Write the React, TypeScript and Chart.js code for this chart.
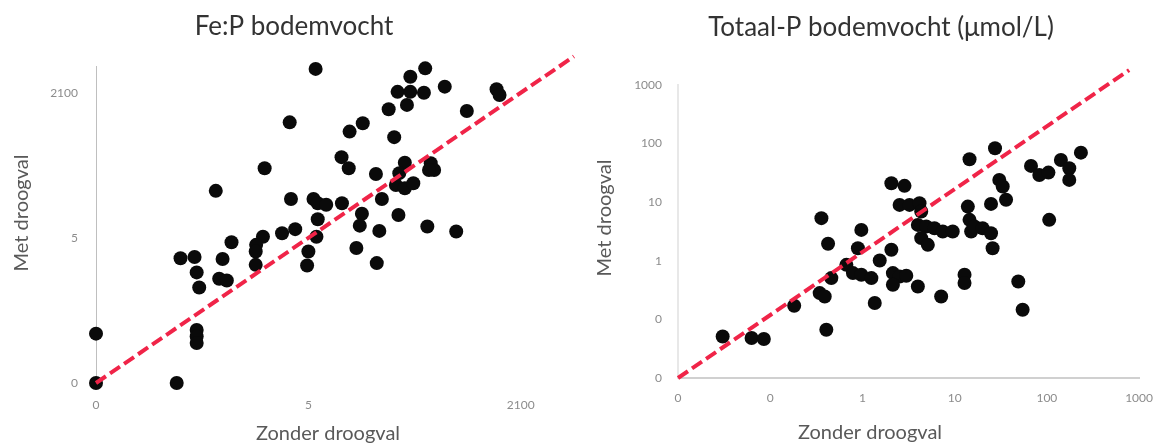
import React, { useEffect, useRef } from 'react';
import { Chart, registerables } from 'chart.js';

Chart.register(...registerables);

// ---------- Fe:P bodemvocht ----------
const feTitle = 'Fe:P bodemvocht';
const feZonder = [
  5.17, 4.56, 3.97, 2.82, 4.59, 5.12, 5.22, 5.42, 5.22, 3.19, 3.93, 3.77, 3.76, 4.38, 4.69, 5.19,
  5.0, 4.97, 1.99, 2.32, 2.98, 2.37, 2.43, 2.9, 3.08, 3.76, 2.37, 2.37, 2.37, 0, 0, 1.9,
  7.75, 7.4, 7.1, 7.4, 7.72, 7.32, 6.89, 8.21, 9.43, 9.5, 8.73, 6.28, 5.97, 7.02, 5.78, 5.95,
  6.59, 7.27, 7.14, 7.06, 7.27, 7.47, 7.88, 7.96, 7.84, 5.79, 6.73, 6.26, 6.21, 7.12, 6.67, 7.8,
  8.48, 6.13, 6.61,
];
const feMet = [
  10.82, 8.98, 7.4, 6.62, 6.34, 6.34, 6.19, 6.14, 5.64, 4.85, 5.04, 4.76, 4.53, 5.16, 5.3, 5.04,
  4.53, 4.05, 4.3, 4.34, 4.27, 3.81, 3.29, 3.59, 3.53, 4.07, 1.83, 1.6, 1.38, 1.7, 0, 0,
  10.84, 10.55, 10.03, 10.03, 10.0, 9.58, 9.43, 10.21, 10.12, 9.92, 9.37, 8.95, 8.66, 8.47, 7.78, 7.4,
  7.2, 7.59, 7.23, 6.82, 6.71, 6.88, 7.57, 7.34, 7.34, 6.19, 6.34, 5.83, 5.42, 5.79, 5.24, 5.39,
  5.22, 4.65, 4.13,
];
const feLineX = [0, 11.25];
const feLineY = [0, 11.25];
const feXTicks = [0, 5, 10];
const feXTickLabels = ['0', '5', '2100'];
const feYTicks = [0, 5, 10];
const feYTickLabels = ['0', '5', '2100'];

// ---------- Totaal-P bodemvocht ----------
const tpTitle = 'Totaal-P bodemvocht (μmol/L)';
const tpZonder = [
  0.0305, 0.0628, 0.0853, 0.182, 0.359, 0.424, 0.406, 0.344, 0.39, 0.46,
  0.67, 0.789, 0.973, 1.25, 0.973, 0.893, 1.36, 1.54, 2.06, 2.14,
  2.53, 2.99, 2.14, 3.99, 2.06, 2.86, 2.53, 3.24, 4.16, 4.34,
  3.99, 4.92, 6.04, 7.43, 9.53, 4.34, 5.12, 7.14, 14.5, 27.4,
  13.9, 14.5, 15.1, 16.4, 20.1, 24.8, 25.8, 24.8, 30.5, 33.2,
  36.1, 12.8, 12.8, 49, 54.6, 67.3, 82.8, 104, 142, 175,
  175, 234, 106,
];
const tpMet = [
  0.0512, 0.0481, 0.0462, 0.171, 5.34, 1.95, 0.0666, 0.281, 0.246, 0.507,
  0.853, 0.617, 0.577, 0.507, 3.37, 1.64, 0.19, 1.01, 1.54, 0.617,
  0.54, 0.555, 0.39, 0.364, 21.1, 19.0, 9.0, 9.0, 9.62, 6.92,
  4.1, 3.84, 3.6, 3.16, 3.16, 2.44, 1.87, 0.246, 54, 83.4,
  8.41, 5.0, 3.16, 3.84, 3.6, 2.96, 1.64, 9.36, 24.0, 18.5,
  11.0, 0.577, 0.417, 0.444, 0.146, 41.6, 29.2, 32, 52.6, 38,
  24.0, 70.1, 5.0,
];
const tpLineX = [0.01, 780];
const tpLineY = [0.01, 1800];
const tpXTicks = [0.01, 0.1, 1, 10, 100, 1000];
const tpXTickLabels = ['0', '0', '1', '10', '100', '1000'];
const tpYTicks = [0.01, 0.1, 1, 10, 100, 1000];
const tpYTickLabels = ['0', '0', '1', '10', '100', '1000'];

const xAxisTitle = 'Zonder droogval';
const yAxisTitle = 'Met droogval';

const FONT = 'Lato, "Open Sans", sans-serif';
const LINE_COLOR = 'rgb(240, 36, 72)';

const axisTitlePlugin = {
  id: 'axisTitles',
  afterDraw(chart: any, _args: any, opts: any) {
    const ctx = chart.ctx;
    ctx.save();
    ctx.fillStyle = opts.color;
    ctx.font = opts.font;
    ctx.textAlign = 'center';
    ctx.textBaseline = 'middle';
    ctx.fillText(opts.xText, opts.xPos[0], opts.xPos[1]);
    ctx.translate(opts.yPos[0], opts.yPos[1]);
    ctx.rotate(-Math.PI / 2);
    ctx.fillText(opts.yText, 0, 0);
    ctx.restore();
  },
};

type PanelProps = {
  title: string;
  xs: number[];
  ys: number[];
  lineX: number[];
  lineY: number[];
  scaleType: 'linear' | 'logarithmic';
  xMin: number;
  xMax: number;
  yMin: number;
  yMax: number;
  xTicks: number[];
  xTickLabels: string[];
  yTicks: number[];
  yTickLabels: string[];
  padLeft: number;
  padRight: number;
  yAxisWidth: number;
  xAxisHeight: number;
  titlePadTop: number;
  titlePadBottom: number;
  xTickPad: number;
  yTickPad: number;
  xBorder: { display: boolean; color: string; width: number };
  yBorder: { display: boolean; color: string; width: number };
  xTitlePos: [number, number];
  yTitlePos: [number, number];
};

function ScatterPanel(p: PanelProps) {
  const ref = useRef<HTMLCanvasElement | null>(null);
  useEffect(() => {
    if (!ref.current) return;
    const chart = new Chart(ref.current, {
      type: 'scatter',
      data: {
        datasets: [
          {
            data: p.lineX.map((x, i) => ({ x, y: p.lineY[i] })),
            showLine: true,
            borderColor: LINE_COLOR,
            borderWidth: 4,
            borderDash: [12, 5],
            pointRadius: 0,
            clip: false,
            order: 0,
          } as any,
          {
            data: p.xs.map((x, i) => ({ x, y: p.ys[i] })),
            backgroundColor: '#0a0a0a',
            borderWidth: 0,
            pointRadius: 7,
            clip: false,
            order: 1,
          } as any,
        ],
      },
      options: {
        responsive: false,
        animation: false,
        events: [],
        layout: { padding: { left: p.padLeft, right: p.padRight, top: 0, bottom: 0 } },
        plugins: {
          legend: { display: false },
          tooltip: { enabled: false },
          title: {
            display: true,
            text: p.title,
            color: '#333333',
            font: { family: FONT, size: 26, weight: 'normal' },
            padding: { top: p.titlePadTop, bottom: p.titlePadBottom },
          },
          axisTitles: {
            xText: xAxisTitle,
            yText: yAxisTitle,
            xPos: p.xTitlePos,
            yPos: p.yTitlePos,
            color: '#595959',
            font: `20px ${FONT}`,
          },
        } as any,
        scales: {
          x: {
            type: p.scaleType,
            min: p.xMin,
            max: p.xMax,
            grid: { display: false, drawTicks: false },
            border: p.xBorder,
            ticks: {
              padding: p.xTickPad,
              color: '#8c8c8c',
              font: { family: FONT, size: 12 },
              autoSkip: false,
              maxRotation: 0,
              callback: (_v: any, i: number) => p.xTickLabels[i],
            },
            afterBuildTicks: (s: any) => {
              s.ticks = p.xTicks.map((v) => ({ value: v }));
            },
            afterFit: (s: any) => {
              s.height = p.xAxisHeight;
            },
          },
          y: {
            type: p.scaleType,
            min: p.yMin,
            max: p.yMax,
            grid: { display: false, drawTicks: false },
            border: p.yBorder,
            ticks: {
              padding: p.yTickPad,
              color: '#8c8c8c',
              font: { family: FONT, size: 12 },
              autoSkip: false,
              callback: (_v: any, i: number) => p.yTickLabels[i],
            },
            afterBuildTicks: (s: any) => {
              s.ticks = p.yTicks.map((v) => ({ value: v }));
            },
            afterFit: (s: any) => {
              s.width = p.yAxisWidth;
            },
          },
        } as any,
      },
      plugins: [axisTitlePlugin],
    });
    return () => chart.destroy();
  }, []);
  return <canvas ref={ref} width={583} height={445} style={{ display: 'block' }} />;
}

export default function App() {
  return (
    <div
      style={{
        position: 'absolute',
        left: 0,
        top: 0,
        width: 1166,
        height: 445,
        display: 'flex',
        background: '#ffffff',
      }}
    >
      <ScatterPanel
        title={feTitle}
        xs={feZonder}
        ys={feMet}
        lineX={feLineX}
        lineY={feLineY}
        scaleType="linear"
        xMin={0}
        xMax={11.3}
        yMin={0}
        yMax={10.9}
        xTicks={feXTicks}
        xTickLabels={feXTickLabels}
        yTicks={feYTicks}
        yTickLabels={feYTickLabels}
        padLeft={8}
        padRight={3}
        yAxisWidth={88}
        xAxisHeight={62}
        titlePadTop={11.4}
        titlePadBottom={24}
        xTickPad={15}
        yTickPad={18}
        xBorder={{ display: false, color: '#d0d0d0', width: 1 }}
        yBorder={{ display: true, color: '#bfbfbf', width: 1 }}
        xTitlePos={[328, 434]}
        yTitlePos={[22, 213]}
      />
      <ScatterPanel
        title={tpTitle}
        xs={tpZonder}
        ys={tpMet}
        lineX={tpLineX}
        lineY={tpLineY}
        scaleType="logarithmic"
        xMin={0.01}
        xMax={1000}
        yMin={0.01}
        yMax={1000}
        xTicks={tpXTicks}
        xTickLabels={tpXTickLabels}
        yTicks={tpYTicks}
        yTickLabels={tpYTickLabels}
        padLeft={39}
        padRight={26}
        yAxisWidth={56}
        xAxisHeight={67}
        titlePadTop={12.4}
        titlePadBottom={41.4}
        xTickPad={13}
        yTickPad={16}
        xBorder={{ display: true, color: '#d0d0d0', width: 2 }}
        yBorder={{ display: true, color: '#e8e8e8', width: 2 }}
        xTitlePos={[287, 433]}
        yTitlePos={[22, 218]}
      />
    </div>
  );
}
